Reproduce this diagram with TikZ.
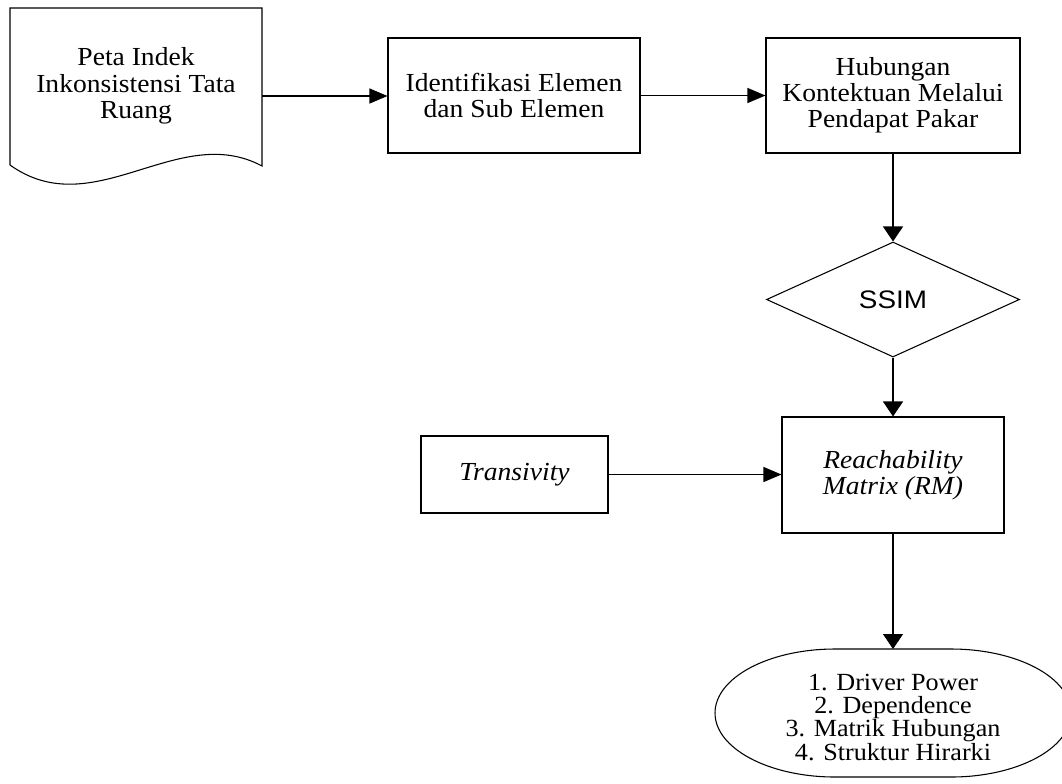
\documentclass[tikz,border=0pt]{standalone}
\usepackage{fontspec}
\setmainfont{Liberation Serif}[FakeStretch=1.06]
\setsansfont{Liberation Sans}[FakeStretch=1.1]
\usetikzlibrary{shapes.geometric,arrows.meta}
\begin{document}
\begin{tikzpicture}[x=0.75pt,y=-0.75pt,
  line width=0.8pt,
  boxtxt/.style={font=\fontsize{19.5}{19.5}\selectfont,align=center,inner sep=0pt},
  procbox/.style={draw,boxtxt},
  harrow/.style={-{Triangle[length=13.5pt,width=11.25pt]}},
  varrow/.style={-{Triangle[length=11.25pt,width=15pt]}}]
\useasboundingbox (0,0) rectangle (1062,783);
\fill[white] (0,0) rectangle (1062,783);
\clip (0,0) rectangle (1062,783);
% document shape
\draw (10,165) -- (10,8) -- (262,8) -- (262,166)
  .. controls (178,121) and (94,225) .. (10,165);
\node[boxtxt,font=\fontsize{19.5}{20}\selectfont] (doc) at (136,86) {Peta Indek\\Inkonsistensi Tata\\Ruang};
\coordinate (docE) at (262,96);
% boxes
\node[procbox,minimum width=252*0.75pt,minimum height=115*0.75pt] (ident) at (514,95.5) {Identifikasi Elemen\\dan Sub Elemen};
\node[procbox,minimum width=254*0.75pt,minimum height=115*0.75pt] (hub) at (893,95.5) {Hubungan\\Kontektuan Melalui\\Pendapat Pakar};
\node[draw,diamond,inner sep=0pt,minimum width=253*0.75pt,minimum height=115*0.75pt,font=\sffamily\fontsize{19}{20}\selectfont] (ssim) at (893,299.5) {SSIM};
\node[procbox,minimum width=222*0.75pt,minimum height=116*0.75pt,font=\itshape\fontsize{19.5}{19.5}\selectfont] (rm) at (893,475) {Reachability\\Matrix (RM)};
\node[procbox,minimum width=187*0.75pt,minimum height=77*0.75pt,font=\itshape\fontsize{19.5}{19.5}\selectfont] (trans) at (514.5,474.5) {Transivity};
% terminal
\draw (835,649) -- (951,649) arc[start angle=-90,end angle=90,x radius=120,y radius=64]
  -- (835,777) arc[start angle=90,end angle=270,x radius=120,y radius=64] -- cycle;
\node[boxtxt,font=\fontsize{18.5}{17.5}\selectfont] (out) at (893,717) {1. Driver Power\\2. Dependence\\3. Matrik Hubungan\\4. Struktur Hirarki};
\coordinate (outN) at (893,649);
% connectors
\draw[harrow] (docE) -- (docE -| ident.west);
\draw[harrow] (ident.east) -- (hub.west);
\draw[varrow] (hub.south) -- (ssim.north);
\draw[varrow] (ssim.south) -- (rm.north);
\draw[harrow] (trans.east) -- (trans.east -| rm.west);
\draw[varrow] (rm.south) -- (outN);
\end{tikzpicture}
\end{document}
